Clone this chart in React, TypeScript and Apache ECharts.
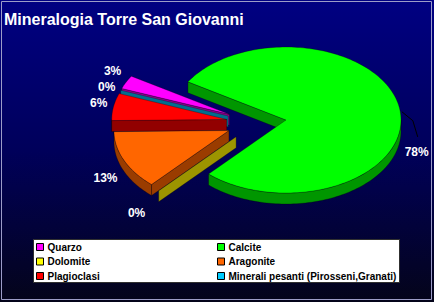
import React, { useEffect, useRef } from 'react';
import * as echarts from 'echarts';

// ---------------- data ----------------
const TITLE = 'Mineralogia Torre San Giovanni';
const minerals = [
  'Quarzo',
  'Calcite',
  'Dolomite',
  'Aragonite',
  'Plagioclasi',
  'Minerali pesanti (Pirosseni,Granati)',
];
const percentages = [3, 78, 0, 13, 6, 0];
const topColors = ['#FF00FF', '#00FF00', '#FFFF00', '#FF6600', '#FF0000', '#00CCFF'];
const sideColors = ['#8c008c', '#009600', '#9c9400', '#9a3c00', '#920000', '#006e8e'];
const legendLeftColumn = ['Quarzo', 'Dolomite', 'Plagioclasi'];
const legendRightColumn = ['Calcite', 'Aragonite', 'Minerali pesanti (Pirosseni,Granati)'];

// ---------------- layout ----------------
const W = 434;
const H = 302;
const CX = 256.3;
const CY = 122.7;
const RX = 115;
const RY = 73;
const DEPTH = 11;
const EXPLODE = 30;
const START_ANGLE = 159.3; // degrees, slices run clockwise
const FONT = '"Liberation Sans", Arial, Helvetica, sans-serif';
// manual label drags (as in the original sheet)
const LABEL_NUDGE: Record<number, [number, number]> = {
  0: [0, -2],
  1: [2, 45],
  2: [-12, -4],
  3: [-5, -2],
  5: [0, 4],
};

const cosd = (a: number) => Math.cos((a * Math.PI) / 180);
const sind = (a: number) => Math.sin((a * Math.PI) / 180);

function sliceGeometry(i: number, value: number) {
  const total = percentages.reduce((a, b) => a + b, 0);
  let s = START_ANGLE;
  for (let j = 0; j < i; j++) s -= (percentages[j] / total) * 360;
  const sweep = (value / total) * 360;
  const t = s - sweep;
  const mid = s - sweep / 2;
  const k = RY / RX;
  const ox = CX + EXPLODE * cosd(mid);
  const oy = CY - EXPLODE * k * sind(mid);
  return { s, t, mid, sweep, ox, oy, total };
}

// depth rank: slices further back (smaller apex y) are drawn first
const depthRank: number[] = (() => {
  const idx = percentages.map((v, i) => ({ i, y: sliceGeometry(i, v).oy }));
  idx.sort((a, b) => a.y - b.y);
  const rank = new Array(percentages.length).fill(0);
  idx.forEach((o, r) => (rank[o.i] = r));
  return rank;
})();

function makeRenderItem(i: number) {
  return (_params: any, api: any) => {
    const v = api.value(0) as number;
    const g = sliceGeometry(i, v);
    const { s, t, mid, sweep, ox, oy, total } = g;
    const P = (a: number, dz = 0) => [ox + RX * cosd(a), oy - RY * sind(a) + dz];
    const base = depthRank[i] * 10;
    const edge = { stroke: 'rgba(0,0,0,0.55)', lineWidth: 0.5 };
    const children: any[] = [];

    // curved outer wall (front half only)
    for (let kk = -2; kk <= 2; kk++) {
      const a = Math.max(t, 180 + 360 * kk);
      const b = Math.min(s, 360 + 360 * kk);
      if (b - a > 0.01) {
        const n = Math.max(2, Math.ceil((b - a) / 1.5));
        const pts: number[][] = [];
        for (let m = 0; m <= n; m++) pts.push(P(b - ((b - a) * m) / n));
        for (let m = n; m >= 0; m--) pts.push(P(b - ((b - a) * m) / n, DEPTH));
        children.push({
          type: 'polygon',
          shape: { points: pts },
          style: { fill: sideColors[i], ...edge },
          z2: base,
        });
      }
    }

    // radial walls facing the viewer
    const apex = [ox, oy];
    const apexB = [ox, oy + DEPTH];
    if (cosd(s) < 0) {
      children.push({
        type: 'polygon',
        shape: { points: [apex, P(s), P(s, DEPTH), apexB] },
        style: { fill: sideColors[i], ...edge },
        z2: base + 1,
      });
    }
    if (sweep > 0.01 && cosd(t) > 0) {
      children.push({
        type: 'polygon',
        shape: { points: [apex, P(t), P(t, DEPTH), apexB] },
        style: { fill: sideColors[i], ...edge },
        z2: base + 1,
      });
    }

    // top face
    if (sweep > 0.01) {
      const n = Math.max(2, Math.ceil(sweep / 1.5));
      const pts: number[][] = [apex];
      for (let m = 0; m <= n; m++) pts.push(P(s - (sweep * m) / n));
      children.push({
        type: 'polygon',
        shape: { points: pts },
        style: { fill: topColors[i], ...edge },
        z2: base + 2,
      });
    }

    // percentage label
    const front = sind(mid) < 0 ? DEPTH : 0;
    let lx = ox + (RX + 15) * cosd(mid);
    let ly = oy - (RY + 20) * sind(mid) + front;
    const nudge = LABEL_NUDGE[i];
    if (nudge) {
      lx += nudge[0];
      ly += nudge[1];
      if (Math.abs(nudge[1]) > 20) {
        const r = P(mid);
        children.push({
          type: 'polyline',
          shape: { points: [[r[0] + 2, r[1] + 2], [r[0] + 13, r[1] + 11], [lx + 1, ly - 15]] },
          style: { stroke: '#000000', lineWidth: 1, fill: 'none' },
          z2: base + 3,
        });
      }
    }
    children.push({
      type: 'text',
      x: lx,
      y: ly,
      style: {
        text: Math.round((v / total) * 100) + '%',
        fill: '#FFFFFF',
        font: `bold 12px ${FONT}`,
        align: 'center',
        verticalAlign: 'middle',
      },
      z2: base + 4,
    });

    return { type: 'group', children };
  };
}

function buildOption(): any {
  const series = minerals.map((name, i) => ({
    type: 'custom',
    name,
    coordinateSystem: 'none',
    itemStyle: { color: topColors[i] },
    data: [[percentages[i]]],
    renderItem: makeRenderItem(i),
    silent: true,
  }));

  const legendCommon = {
    orient: 'vertical',
    top: 241,
    padding: 0,
    itemGap: 2.5,
    itemWidth: 7,
    itemHeight: 7,
    icon: 'rect',
    selectedMode: false,
    itemStyle: { borderColor: '#000000', borderWidth: 1 },
    textStyle: {
      color: '#000000',
      fontSize: 10,
      fontWeight: 'bold',
      fontFamily: FONT,
      lineHeight: 12,
      padding: [0, 0, 0, -1],
    },
  };

  return {
    animation: false,
    title: {
      text: TITLE,
      left: 4,
      top: 11,
      padding: 0,
      textStyle: { color: '#FFFFFF', fontSize: 16, fontWeight: 'bold', fontFamily: FONT },
    },
    legend: [
      { ...legendCommon, left: 36, data: legendLeftColumn },
      { ...legendCommon, left: 217, data: legendRightColumn },
    ],
    graphic: [
      {
        type: 'rect',
        z: -10,
        silent: true,
        shape: { x: 0, y: 0, width: W, height: H },
        style: {
          fill: {
            type: 'linear',
            x: 0,
            y: 0,
            x2: 0,
            y2: 1,
            colorStops: [
              { offset: 0, color: '#000082' },
              { offset: 0.5, color: '#00005a' },
              { offset: 1, color: '#04041a' },
            ],
          },
        },
      },
      {
        type: 'rect',
        z: -9,
        silent: true,
        shape: { x: 1.5, y: 1.5, width: 430, height: 298 },
        style: { fill: 'none', stroke: '#9c9cc8', lineWidth: 1 },
      },
      {
        type: 'rect',
        z: 3,
        silent: true,
        shape: { x: 33.5, y: 239.5, width: 366, height: 43 },
        style: { fill: '#FFFFFF', stroke: '#303030', lineWidth: 1 },
      },
    ],
    series,
  };
}

export default function App() {
  const ref = useRef<HTMLDivElement>(null);
  useEffect(() => {
    if (!ref.current) return;
    const chart = echarts.init(ref.current, null, { renderer: 'svg' });
    chart.setOption(buildOption());
    return () => {
      chart.dispose();
    };
  }, []);
  return (
    <div
      ref={ref}
      style={{ position: 'absolute', left: 0, top: 0, width: W, height: H }}
    />
  );
}
